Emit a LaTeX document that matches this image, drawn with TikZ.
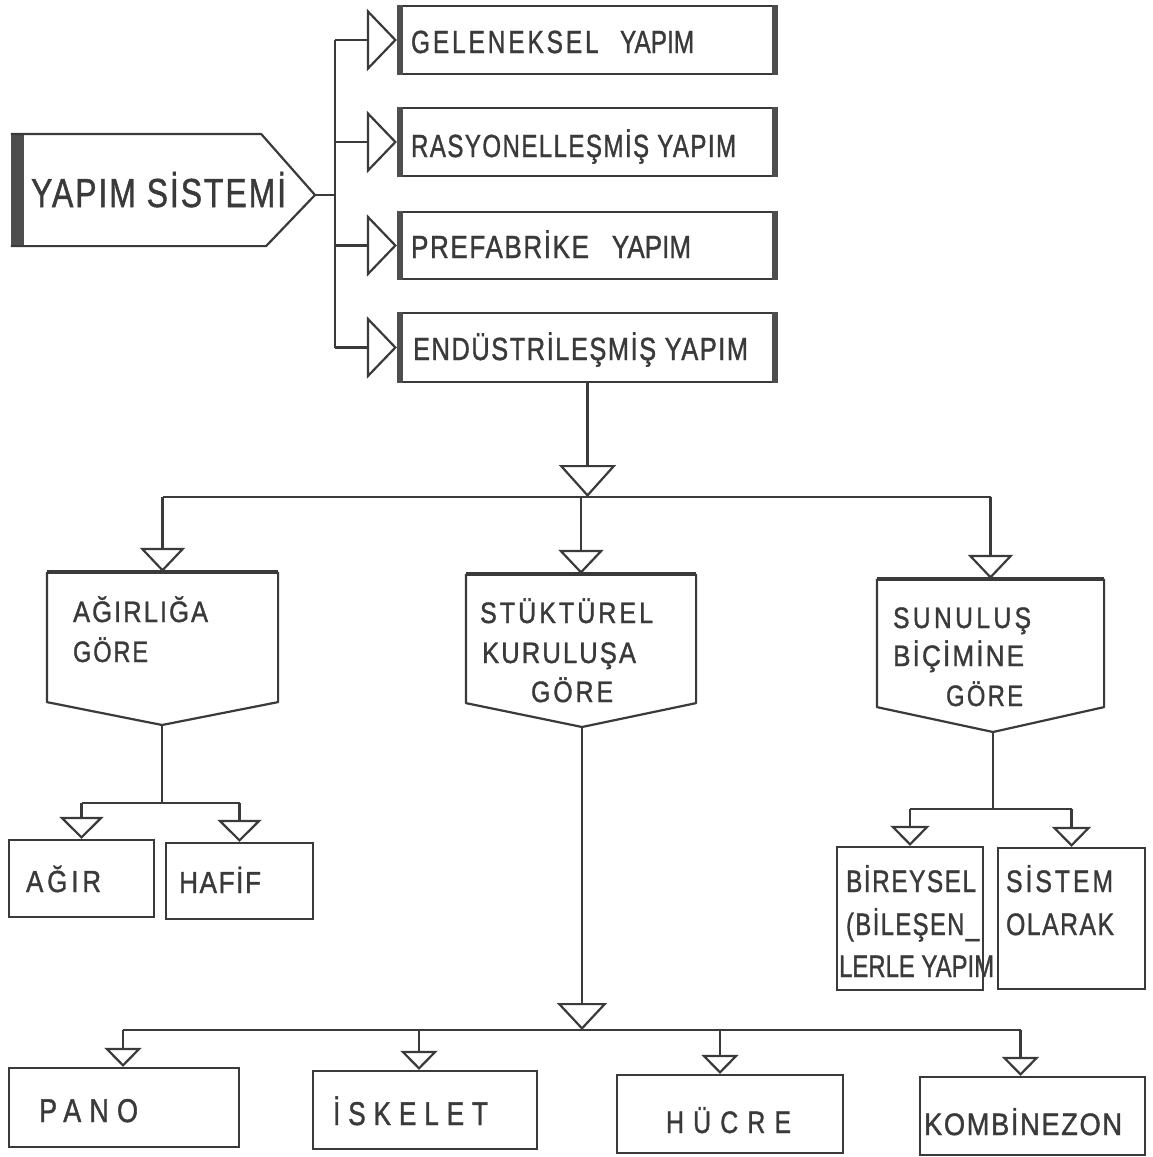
\documentclass[tikz,border=0pt]{standalone}
\usepackage{fontspec}
\setmainfont{Liberation Sans}[FakeBold=1.3]
\usepackage{graphicx}
\usetikzlibrary{arrows.meta,calc}
\definecolor{ink}{HTML}{3A3A3A}
\definecolor{barc}{HTML}{4E4E4E}
\newlength\fitlen
\newcommand\fitline[3]{%
  \settowidth\fitlen{\fontsize{#2}{#2}\selectfont #3}%
  \pgfmathsetmacro\fitratio{#1/\fitlen}%
  \scalebox{\fitratio}[1]{\fontsize{#2}{#2}\selectfont #3}}
\newcommand\ls[2]{{\addfontfeatures{LetterSpace=#1}#2}}
\begin{document}
\begin{tikzpicture}[x=1pt,y=-1pt,color=ink,line width=2.2pt,
  box/.style={draw,rectangle,inner sep=0pt},
  frame/.style={rectangle,inner sep=0pt},
  txt/.style={inner sep=0pt,anchor=base west,text=ink},
  ta/.style={-{Triangle[open,length=30pt,width=62pt]}},
  tb/.style={-{Triangle[open,length=32pt,width=57pt]}},
  tc/.style={-{Triangle[open,length=24pt,width=45pt]}},
  td/.style={-{Triangle[open,length=22pt,width=44pt]}},
  te/.style={-{Triangle[open,length=20pt,width=39pt]}},
  tf/.style={-{Triangle[open,length=19pt,width=37pt]}},
  tg/.style={-{Triangle[open,length=27pt,width=50pt]}},
  thicktop/.style={line width=4.5pt}]
\useasboundingbox[fill=white] (0,0) rectangle (1153,1157);

% ---------- YAPIM SISTEMI ----------
\node[frame,minimum width=250pt,minimum height=110pt] (sys) at (137,190) {};
\coordinate (systip) at (315,195);
\fill[barc] (sys.north west) rectangle ([xshift=13pt]sys.south west);
\draw[line join=round] (sys.north west) -- ([xshift=-2pt]sys.north east) -- (systip)
  -- ([xshift=3pt]sys.south east) -- (sys.south west);
\node[txt] (tsys) at (30,207) {\fitline{255}{40.5}{\ls{6}{YAPIM SİSTEMİ}}};

% ---------- top boxes ----------
\node[box,minimum width=379pt,minimum height=68pt] (g1) at (587.5,40) {};
\node[box,minimum width=379pt,minimum height=68pt] (g2) at (587.5,142) {};
\node[box,minimum width=379pt,minimum height=67pt] (g3) at (587.5,245.5) {};
\node[box,minimum width=379pt,minimum height=69pt] (g4) at (587.5,347.5) {};
\foreach \n in {g1,g2,g3,g4}{
  \fill[barc] (\n.north west) rectangle ([xshift=6pt]\n.south west);
  \fill[barc] ([xshift=-6pt]\n.north east) rectangle (\n.south east);
}
\node[txt] (tg1) at (410,53) {\fitline{283}{32}{\ls{12}{GELENEKSEL}\hspace{0.6em} YAPIM}};
\node[txt] (tg2) at (410,157) {\fitline{325}{32}{\ls{6}{RASYONELLEŞMİŞ YAPIM}}};
\node[txt] (tg3) at (410,258) {\fitline{280}{32}{\ls{6}{PREFABRİKE}\hspace{0.6em} YAPIM}};
\node[txt] (tg4) at (412,360) {\fitline{335}{32}{\ls{6}{ENDÜSTRİLEŞMİŞ YAPIM}}};

\coordinate (hub) at (335,195);
\draw (systip) -- (hub);
\draw (hub |- g1.west) -- (hub |- g4.west);
\foreach \n in {g1,g2,g3,g4}{
  \draw[ta] (hub |- \n.west) -- (\n.west);
}

% ---------- middle level ----------
\node[frame,minimum width=229pt,minimum height=128pt] (agr) at (162.5,637) {};
\coordinate (agrpt) at (162,725);
\node[frame,minimum width=228pt,minimum height=127pt] (stk) at (581,638.5) {};
\coordinate (stkpt) at (582,727);
\node[frame,minimum width=225pt,minimum height=126pt] (sun) at (990.5,643) {};
\coordinate (sunpt) at (993,732);
\foreach \n in {agr,stk,sun}{
  \draw[line join=round] (\n.north west) -- (\n.south west) -- (\n pt) -- (\n.south east) -- (\n.north east);
  \draw[thicktop] (\n.north west) -- (\n.north east);
}

\coordinate (bus1) at (585,497);
\draw[tb] (g4.south) -- (g4.south |- bus1);
\draw (agr.north |- bus1) -- (sun.north |- bus1);
\draw[tc] (agr.north |- bus1) -- (agr.north);
\draw[tc] (stk.north |- bus1) -- (stk.north);
\draw[tc] (sun.north |- bus1) -- (sun.north);

\node[txt] (ta1) at (72,622) {\fitline{135}{29.5}{\ls{8}{AĞIRLIĞA}}};
\node[txt] (ta2) at (72,662) {\fitline{75}{29.5}{\ls{8}{GÖRE}}};
\node[txt] (ts1) at (479,623) {\fitline{173}{29.5}{\ls{12}{STÜKTÜREL}}};
\node[txt] (ts2) at (481,663) {\fitline{154}{29.5}{\ls{8}{KURULUŞA}}};
\node[txt] (ts3) at (530,702) {\fitline{82}{29.5}{\ls{12}{GÖRE}}};
\node[txt] (tu1) at (892,628) {\fitline{138}{29.5}{\ls{14}{SUNULUŞ}}};
\node[txt] (tu2) at (892,666) {\fitline{131}{29.5}{\ls{8}{BİÇİMİNE}}};
\node[txt] (tu3) at (945,706) {\fitline{77}{29.5}{\ls{10}{GÖRE}}};

% ---------- left lower ----------
\node[box,minimum width=145pt,minimum height=77pt] (agir) at (81.5,878.5) {};
\node[box,minimum width=147pt,minimum height=76pt] (hafif) at (239.5,881) {};
\draw (agrpt) -- (agrpt |- 0,803) coordinate (bus2);
\draw (agir.north |- bus2) -- (hafif.north |- bus2);
\draw[td] (agir.north |- bus2) -- (agir.north);
\draw[td] (hafif.north |- bus2) -- (hafif.north);
\node[txt] (tagir) at (25,892) {\fitline{75}{30.5}{\ls{15}{AĞIR}}};
\node[txt] (thafif) at (178,893) {\fitline{82}{30.5}{\ls{6}{HAFİF}}};

% ---------- right lower ----------
\node[box,minimum width=146pt,minimum height=143pt] (bir) at (910,918.5) {};
\node[box,minimum width=147pt,minimum height=141pt] (sis) at (1071.5,918.5) {};
\draw (sunpt) -- (sunpt |- 0,809) coordinate (bus4);
\draw (bir.north |- bus4) -- (sis.north |- bus4);
\draw[te] (bir.north |- bus4) -- (bir.north);
\draw[te] (sis.north |- bus4) -- (sis.north);
\node[txt] (tb1) at (845,892) {\fitline{130}{31}{\ls{6}{BİREYSEL}}};
\node[txt] (tb2) at (845,935) {\fitline{133}{31}{\ls{6}{(BİLEŞEN\_}}};
\node[txt] (tb3) at (838,977) {\fitline{155}{31}{LERLE YAPIM}};
\node[txt] (tt1) at (1005,892) {\fitline{107}{31}{\ls{12}{SİSTEM}}};
\node[txt] (tt2) at (1005,935) {\fitline{108}{31}{\ls{6}{OLARAK}}};

% ---------- bottom row ----------
\node[box,minimum width=230pt,minimum height=79pt] (pano) at (124,1107.5) {};
\node[box,minimum width=224pt,minimum height=78pt] (isk) at (425,1110) {};
\node[box,minimum width=226pt,minimum height=78pt] (hcr) at (730,1114) {};
\node[box,minimum width=225pt,minimum height=78pt] (kmb) at (1032.5,1116) {};
\draw[tg] (stkpt) -- (stkpt |- 0,1030) coordinate (bus3);
\draw ([xshift=-1pt]pano.north |- bus3) -- ([xshift=-12pt]kmb.north |- bus3);
\draw[tf] ([xshift=-1pt]pano.north |- bus3) -- ([xshift=-1pt]pano.north);
\draw[tf] ([xshift=-6pt]isk.north |- bus3) -- ([xshift=-6pt]isk.north);
\draw[tf] ([xshift=-10pt]hcr.north |- bus3) -- ([xshift=-10pt]hcr.north);
\draw[tf] ([xshift=-12pt]kmb.north |- bus3) -- ([xshift=-12pt]kmb.north);
\node[txt] (tpano) at (38,1122) {\fitline{99}{33}{\ls{30}{PANO}}};
\node[txt] (tisk) at (332,1125) {\fitline{155}{33}{\ls{30}{İSKELET}}};
\node[txt] (thcr) at (665,1133) {\fitline{125}{31}{\ls{37}{HÜCRE}}};
\node[txt] (tkmb) at (923,1135) {\fitline{198}{31}{\ls{6}{KOMBİNEZON}}};
\end{tikzpicture}
\end{document}
